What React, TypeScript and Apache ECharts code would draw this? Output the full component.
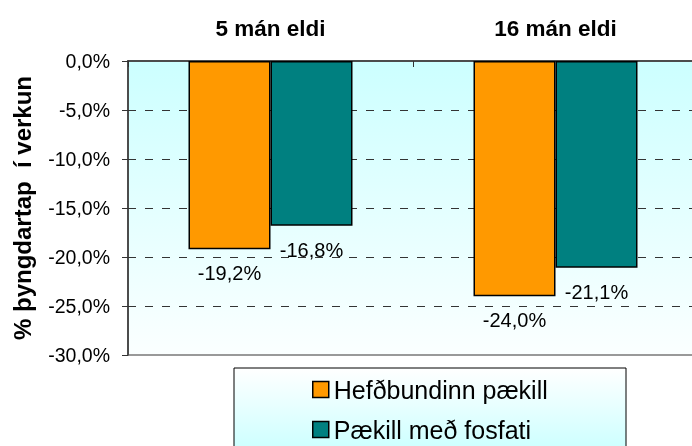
import React, { useEffect, useRef } from "react";
import * as echarts from "echarts";

const categories = ["5 mán eldi", "16 mán eldi"];
const seriesNames = ["Hefðbundinn pækill", "Pækill með fosfati"];
const hefdbundinn = [-19.2, -24.0];
const fosfat = [-16.8, -21.1];
const yAxisName = "% þyngdartap  í verkun";

const fmt = (v: number) => v.toFixed(1).replace(".", ",") + "%";

export default function App() {
  const ref = useRef<HTMLDivElement>(null);
  useEffect(() => {
    if (!ref.current) return;
    const chart = echarts.init(ref.current, undefined, { renderer: "svg" });
    const font = "'Liberation Sans', Arial, sans-serif";
    chart.setOption({
      animation: false,
      textStyle: { fontFamily: font },
      graphic: [
        {
          type: "rect",
          z: -10,
          shape: { x: 234, y: 368, width: 392, height: 82 },
          style: {
            fill: {
              type: "linear",
              x: 0,
              y: 0,
              x2: 0,
              y2: 1,
              colorStops: [
                { offset: 0, color: "#ffffff" },
                { offset: 1, color: "#ccffff" },
              ],
            },
            stroke: "#000",
            lineWidth: 1,
          },
        },
      ],
      grid: {
        left: 128,
        top: 61,
        width: 570,
        height: 294,
        outerBoundsMode: "none",
        containLabel: false,
        show: true,
        backgroundColor: {
          type: "linear",
          x: 0,
          y: 0,
          x2: 0,
          y2: 1,
          colorStops: [
            { offset: 0, color: "#ccffff" },
            { offset: 1, color: "#fbffff" },
          ],
        },
        borderColor: "#999999",
        borderWidth: 2,
      },
      legend: {
        orient: "vertical",
        left: 312,
        top: 377,
        padding: 0,
        itemWidth: 16,
        itemHeight: 16,
        itemGap: 15,
        icon: "rect",
        textStyle: { fontSize: 25, color: "#000", fontFamily: font },
        itemStyle: { borderColor: "#000", borderWidth: 1.5 },
        data: seriesNames,
      },
      xAxis: {
        type: "category",
        position: "top",
        data: categories,
        axisLine: { show: true, lineStyle: { color: "#333", width: 1.5 } },
        axisTick: { show: true, inside: true, length: 6, lineStyle: { color: "#333" } },
        axisLabel: {
          margin: 21,
          fontSize: 22.5,
          fontWeight: "bold",
          color: "#000",
          fontFamily: font,
        },
        splitLine: { show: false },
      },
      yAxis: {
        type: "value",
        min: -30,
        max: 0,
        interval: 5,
        name: yAxisName,
        nameLocation: "middle",
        nameRotate: 90,
        nameGap: 94,
        nameTextStyle: {
          fontSize: 24,
          fontWeight: "bold",
          color: "#000",
          fontFamily: font,
        },
        axisLine: { show: true, lineStyle: { color: "#333", width: 1.5 } },
        axisTick: { show: true, length: 6, lineStyle: { color: "#333" } },
        axisLabel: {
          margin: 18,
          fontSize: 19.5,
          color: "#000",
          fontFamily: font,
          formatter: (v: number) => fmt(v),
        },
        splitLine: {
          show: true,
          showMinLine: false,
          showMaxLine: false,
          lineStyle: { color: "#333", type: [8, 9], width: 1 },
        },
      },
      series: [
        {
          name: seriesNames[0],
          type: "bar",
          data: hefdbundinn,
          barWidth: 82,
          barGap: "0%",
          itemStyle: { color: "#FF9900", borderColor: "#000", borderWidth: 1.5 },
          label: {
            show: true,
            position: "bottom",
            distance: 14,
            fontSize: 20,
            color: "#000",
            fontFamily: font,
            formatter: (p: any) => fmt(p.value),
          },
        },
        {
          name: seriesNames[1],
          type: "bar",
          data: fosfat,
          barWidth: 82,
          barGap: "0%",
          itemStyle: { color: "#008080", borderColor: "#000", borderWidth: 1.5 },
          label: {
            show: true,
            position: "bottom",
            distance: 14,
            fontSize: 20,
            color: "#000",
            fontFamily: font,
            formatter: (p: any) => fmt(p.value),
          },
        },
      ],
    });
    return () => chart.dispose();
  }, []);
  return (
    <div
      ref={ref}
      style={{ position: "fixed", left: 0, top: 0, width: 692, height: 446 }}
    />
  );
}
